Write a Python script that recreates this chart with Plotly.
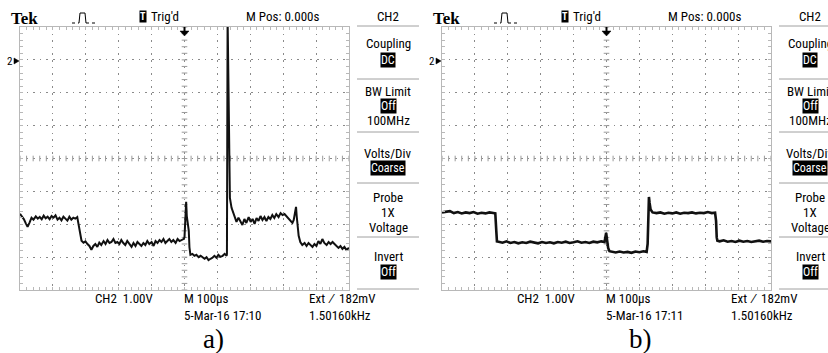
import plotly.graph_objects as go

W, H = 828, 353

# ---- waveform a) : time (us) and CH2 voltage (V) ----
t_a = [-500, -494, -488, -482, -477, -471, -465, -459, -452, -446, -440, -434, -428, -422,
       -416, -410, -404, -398, -392, -386, -380, -374, -368, -362, -356, -350, -344, -338,
       -332, -326, -322, -318, -313, -307, -301, -295, -289, -283, -277, -271, -265, -259,
       -253, -246, -240, -234, -228, -222, -216, -210, -204, -198, -192, -186, -180, -174,
       -168, -161, -155, -149, -143, -137, -131, -125, -119, -113, -107, -100, -94, -88,
       -82, -76, -70, -64, -58, -52, -46, -40, -34, -27, -21, -15, -9, -3,
       0, 3, 5, 7, 10, 13, 15, 18, 24, 30, 36, 43, 49, 55, 61, 67, 73, 79, 85, 91, 97,
       103, 109, 116, 122, 128, 129, 131, 135, 138, 143, 148, 153, 158, 164, 170, 176, 182,
       188, 195, 201, 207, 213, 219, 225, 231, 237, 243, 249, 255, 261, 267, 273, 279, 286,
       292, 298, 304, 310, 316, 322, 328, 332, 336, 339, 341, 344, 347, 352, 358, 365, 371,
       377, 383, 389, 395, 401, 407, 413, 419, 425, 432, 438, 444, 450, 456, 462, 468, 474,
       480, 486, 492, 500]
v_a = [-4.68, -4.75, -4.85, -4.98, -5.08, -4.95, -4.80, -4.86, -4.76, -4.83, -4.78, -4.85,
       -4.74, -4.82, -4.77, -4.85, -4.75, -4.80, -4.73, -4.86, -4.80, -4.88, -4.77, -4.83,
       -4.89, -4.77, -4.86, -4.80, -4.83, -4.78, -5.00, -5.30, -5.50, -5.56, -5.52, -5.60,
       -5.66, -5.78, -5.66, -5.60, -5.69, -5.56, -5.63, -5.51, -5.60, -5.48, -5.57, -5.54,
       -5.45, -5.57, -5.54, -5.60, -5.48, -5.57, -5.63, -5.51, -5.60, -5.69, -5.57, -5.66,
       -5.54, -5.60, -5.66, -5.57, -5.63, -5.51, -5.60, -5.54, -5.66, -5.51, -5.57, -5.48,
       -5.54, -5.45, -5.57, -5.51, -5.45, -5.54, -5.48, -5.57, -5.45, -5.51, -5.48, -5.45,
       -5.40, -4.90, -4.32, -4.75, -5.00, -5.20, -5.70, -5.93, -5.90, -5.96, -5.93, -6.00,
       -5.96, -6.02, -6.05, -6.00, -6.09, -6.05, -6.02, -5.96, -6.02, -5.93, -5.99, -5.96,
       -5.90, -5.96, -5.90, 1.30, -3.30, -4.20, -4.50, -4.66, -4.75, -4.93, -4.80, -4.90,
       -5.02, -4.84, -4.96, -4.78, -4.93, -4.84, -4.99, -4.81, -4.90, -4.75, -4.87, -4.78,
       -4.90, -4.78, -4.84, -4.72, -4.81, -4.69, -4.78, -4.66, -4.72, -4.69, -4.75, -4.84,
       -4.90, -4.96, -4.87, -4.60, -4.47, -4.75, -5.05, -5.35, -5.54, -5.63, -5.57, -5.66,
       -5.57, -5.63, -5.69, -5.60, -5.66, -5.51, -5.60, -5.45, -5.57, -5.63, -5.54, -5.60,
       -5.54, -5.60, -5.66, -5.72, -5.66, -5.75, -5.69, -5.78, -5.72]

# ---- waveform b) ----
t_b = [-500, -488, -476, -464, -452, -440, -428, -416, -404, -392, -380, -368, -356, -344,
       -338, -335, -333, -328, -316, -304, -292, -280, -268, -256, -244, -232, -220, -208,
       -196, -184, -172, -160, -148, -136, -124, -112, -100, -88, -76, -64, -52, -40, -28,
       -16, -6, -3, -1, 2, 5, 9, 16, 28, 40, 52, 64, 76, 88, 100, 112, 122, 125, 127, 129,
       131, 134, 140, 152, 164, 176, 188, 200, 212, 224, 236, 248, 260, 272, 284, 296, 308,
       320, 330, 333, 335, 337, 344, 356, 368, 380, 392, 404, 416, 428, 440, 452, 464, 476,
       488, 500]
v_b = [-4.64, -4.62, -4.60, -4.66, -4.63, -4.67, -4.64, -4.66, -4.63, -4.68, -4.65, -4.67,
       -4.64, -4.66, -4.67, -5.20, -5.52, -5.53, -5.56, -5.52, -5.57, -5.54, -5.58, -5.55,
       -5.57, -5.53, -5.56, -5.58, -5.54, -5.57, -5.55, -5.58, -5.54, -5.56, -5.53, -5.57,
       -5.55, -5.52, -5.56, -5.54, -5.57, -5.53, -5.55, -5.52, -5.54, -5.40, -5.26, -5.50,
       -5.72, -5.82, -5.84, -5.86, -5.83, -5.86, -5.84, -5.87, -5.83, -5.85, -5.82, -5.84,
       -5.60, -4.50, -4.17, -4.35, -4.55, -4.64, -4.66, -4.64, -4.68, -4.65, -4.67, -4.64,
       -4.68, -4.65, -4.66, -4.64, -4.67, -4.65, -4.66, -4.63, -4.66, -4.65, -4.90, -5.40,
       -5.50, -5.52, -5.49, -5.53, -5.51, -5.54, -5.50, -5.53, -5.51, -5.54, -5.52, -5.50,
       -5.53, -5.51, -5.52]

# ---- screen read-outs ----
header = ["Tek", "Trig'd", "M Pos: 0.000s", "CH2"]
menu = ["Coupling", "BW Limit", "100MHz", "Volts/Div", "Probe", "1X", "Voltage", "Invert"]
menu_boxes = ["DC", "Off", "Coarse", "Off"]
scale_read = ["CH2  1.00V", "M 100µs", "Ext  ∕  182mV", "1.50160kHz"]
dates = ["5-Mar-16 17:10", "5-Mar-16 17:11"]
captions = ["a)", "b)"]

SANS = "Liberation Sans Narrow, Roboto Condensed, Liberation Sans, Arial"
SERIF = "Liberation Serif, Times New Roman, serif"
GRID = "#8a8a8a"
TICK = "#9a9a9a"
FRAME = "#b8b8b8"


def px(x):
    return x / W


def py(y):
    return 1 - y / H


fig = go.Figure()

# graticule centre-line ticks
for xa, ya in (("x", "y"), ("x2", "y2")):
    vt = [-7 + 0.2 * i for i in range(41)]
    ht = [-500 + 20 * i for i in range(51)]
    fig.add_trace(go.Scatter(x=[0] * len(vt), y=vt, mode="markers", xaxis=xa, yaxis=ya,
                             marker=dict(symbol="line-ew", size=4,
                                         line=dict(width=1, color=TICK)),
                             hoverinfo="skip", showlegend=False))
    fig.add_trace(go.Scatter(x=ht, y=[-3] * len(ht), mode="markers", xaxis=xa, yaxis=ya,
                             marker=dict(symbol="line-ns", size=4,
                                         line=dict(width=1, color=TICK)),
                             hoverinfo="skip", showlegend=False))

fig.add_trace(go.Scatter(x=t_a, y=v_a, mode="lines", xaxis="x", yaxis="y",
                         line=dict(color="#111111", width=2), showlegend=False))
fig.add_trace(go.Scatter(x=t_b, y=v_b, mode="lines", xaxis="x2", yaxis="y2",
                         line=dict(color="#111111", width=2.6), showlegend=False))

ax_common = dict(showgrid=True, gridcolor=GRID, griddash="1.6px,5px", gridwidth=1.3,
                 zeroline=False, showticklabels=False, showline=True, linecolor=FRAME,
                 linewidth=1, mirror="allticks", ticks="inside", ticklen=3,
                 tickcolor=FRAME, fixedrange=True)
xdom_a = [px(20), px(349)]
xdom_b = [px(442), px(771)]
ydom = [py(290), py(27)]

fig.update_layout(
    width=W, height=H, margin=dict(l=0, r=0, t=0, b=0),
    paper_bgcolor="white", plot_bgcolor="white",
    xaxis=dict(domain=xdom_a, range=[-500, 500], dtick=100, anchor="y",
               minor=dict(dtick=20, ticks="inside", ticklen=3, tickcolor=FRAME), **ax_common),
    yaxis=dict(domain=ydom, range=[-7, 1], dtick=1, anchor="x",
               minor=dict(dtick=0.2, ticks="inside", ticklen=3, tickcolor=FRAME), **ax_common),
    xaxis2=dict(domain=xdom_b, range=[-500, 500], dtick=100, anchor="y2",
                minor=dict(dtick=20, ticks="inside", ticklen=3, tickcolor=FRAME), **ax_common),
    yaxis2=dict(domain=ydom, range=[-7, 1], dtick=1, anchor="x2",
                minor=dict(dtick=0.2, ticks="inside", ticklen=3, tickcolor=FRAME), **ax_common),
)

annotations = []
shapes = []


def note(x, y, text, size=13, xanchor="center", family=SANS, bg=None, color="black"):
    annotations.append(dict(x=px(x), y=py(y), xref="paper", yref="paper", text=text,
                            showarrow=False, xanchor=xanchor, yanchor="middle",
                            font=dict(family=family, size=size, color=color),
                            bgcolor=bg, borderpad=0))


def hline(x0, x1, y, color="#a0a0a0"):
    shapes.append(dict(type="line", xref="paper", yref="paper", x0=px(x0), x1=px(x1),
                       y0=py(y), y1=py(y), line=dict(color=color, width=1)))


def path(points, fill=None, width=1, dash="solid"):
    d = "M " + " L ".join(f"{px(a):.5f},{py(b):.5f}" for a, b in points)
    if fill:
        d += " Z"
    shapes.append(dict(type="path", xref="paper", yref="paper", path=d,
                       fillcolor=fill, line=dict(color="black", width=width, dash=dash)))


for k, off in enumerate((0, 422)):
    # header line
    note(10 + off, 18, "<b>" + header[0] + "</b>", size=17, xanchor="left", family=SERIF)
    path([(72 + off, 23), (79 + off, 23)], width=1, dash="dot")
    path([(79 + off, 23), (80 + off, 13), (85 + off, 13), (86 + off, 23)], width=1)
    path([(86 + off, 23), (96 + off, 23)], width=1, dash="dot")
    note(143 + off, 17, "<b>T</b>", size=10, bg="black", color="white")
    note(150 + off, 17, header[1], size=13, xanchor="left")
    note(245 + off, 17, header[2], size=13, xanchor="left")
    note(388 + off, 17, header[3], size=13)

    # trigger position arrow and ground marker
    path([(184.5 + off, 27), (184.5 + off, 31)], width=2)
    path([(180 + off, 31), (189 + off, 31), (184.5 + off, 36)], fill="black", width=0.5)
    note(6 + off, 61, "2", size=11, xanchor="left")
    path([(14 + off, 58), (14 + off, 64), (19 + off, 61)], fill="black", width=0.5)

    # side menu
    for yy in (26, 79, 132, 183, 237, 289):
        hline(357 + off, 419 + off, yy)
    note(388 + off, 43, menu[0])
    note(388 + off, 60, menu_boxes[0], size=12, bg="black", color="white")
    note(388 + off, 91, menu[1])
    note(388 + off, 106, menu_boxes[1], size=12, bg="black", color="white")
    note(388 + off, 121, menu[2])
    note(388 + off, 153, menu[3])
    note(388 + off, 168, menu_boxes[2], size=12, bg="black", color="white")
    note(388 + off, 197, menu[4])
    note(388 + off, 212, menu[5])
    note(388 + off, 227, menu[6])
    note(388 + off, 256, menu[7])
    note(388 + off, 272, menu_boxes[3], size=12, bg="black", color="white")

    # bottom read-outs
    note(94 + off, 298, scale_read[0], xanchor="left")
    note(183 + off, 298, scale_read[1], xanchor="left")
    note(308 + off, 298, scale_read[2], xanchor="left")
    note(183 + off, 315, dates[k], xanchor="left")
    note(308 + off, 315, scale_read[3], xanchor="left")
    note(214 + off * 1.01, 339, captions[k], size=27, family=SERIF)

fig.update_layout(annotations=annotations, shapes=shapes)
fig.write_html("out.html")
